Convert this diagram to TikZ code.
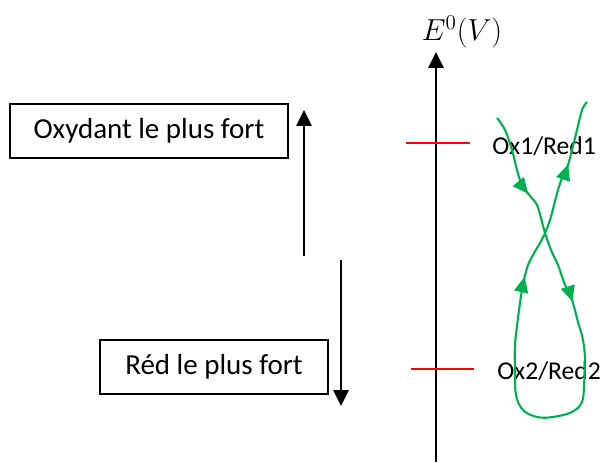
\documentclass[tikz,border=0pt]{standalone}
\usepackage{fontspec}
\setmainfont{Carlito}
\usetikzlibrary{arrows.meta,decorations.markings}

\tikzset{
    cadre/.style={draw, line width=0.7pt, minimum height=1.08cm, inner sep=0pt},
    fleche/.style={line width=1.6pt, -{Triangle[width=8.5pt,length=9pt]}},
    niveau/.style={draw=red, line width=1.1pt},
    couple/.style={anchor=west, inner sep=0pt, font=\fontsize{14.6}{16}\selectfont},
    pointe/.style={decoration={markings,
        mark=at position 0.12 with {\arrow{Triangle[width=8pt,length=9pt]}},
        mark=at position 0.29 with {\arrow{Triangle[width=8pt,length=9pt]}},
        mark=at position 0.73 with {\arrow{Triangle[width=8pt,length=9pt]}},
        mark=at position 0.905 with {\arrow{Triangle[width=8pt,length=9pt]}}},
        postaction={decorate}},
}
\definecolor{vert}{RGB}{0,176,80}

\begin{document}
\begin{tikzpicture}[x=0.02cm, y=-0.02cm]
\useasboundingbox (0,0) rectangle (607,462);

% ===== Axe des potentiels =====
\coordinate (axebas) at (436,462);
\coordinate (axehaut) at (436,52);
\draw[fleche] (axebas) -- (axehaut);
\node (titre) at (462,32) {\fontsize{17}{19}\selectfont $E^0(V)$};

% ===== Niveaux des couples =====
\draw[niveau] (406,143) -- (470,143);
\draw[niveau] (411,369) -- (474,369);
\node[couple] (couple1) at (492,146) {Ox1/Red1};
\node[couple] (couple2) at (497,371) {Ox2/Red2};

% ===== Cadres =====
\node[cadre, minimum width=5.56cm, font=\fontsize{16.5}{18}\selectfont] (oxy) at (149,131) {Oxydant le plus fort};
\node[cadre, minimum width=4.56cm, font=\fontsize{16.5}{18}\selectfont] (red) at (214,367) {Réd le plus fort};

% ===== Fleches laterales =====
\coordinate (montbas) at (304,256);
\coordinate (monthaut) at (304,110);
\draw[fleche] (montbas) -- (monthaut);

\coordinate (deschaut) at (341,260);
\coordinate (descbas) at (341,406);
\draw[fleche] (deschaut) -- (descbas);

% ===== Regle du gamma =====
\draw[vert, line width=1.2pt, pointe]
    plot[smooth, tension=0.6] coordinates {
    (497,118) (505,130) (512,150) (517,170) (522,185) (530,196) (537,205)
    (542,222) (545,233) (551,250) (558,265) (565,285) (572,300) (578,322)
    (583,340) (585,360) (584,385) (582,402) (572,412) (553,417) (537,417)
    (523,410) (516,395) (515,370) (515,345) (518,318) (522,290) (527,268)
    (533,255) (540,243) (545,233) (550,220) (554,205) (558,190) (563,175)
    (568,165) (572,150) (577,130) (582,110) (587,102)};

\end{tikzpicture}
\end{document}
